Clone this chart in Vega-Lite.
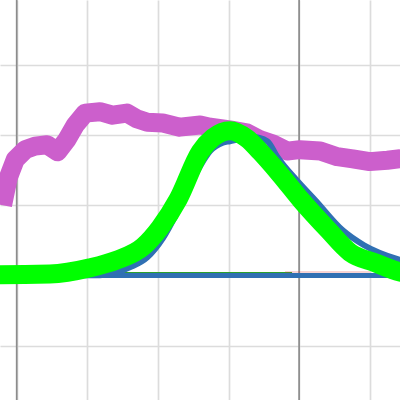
{
  "$schema": "https://vega.github.io/schema/vega-lite/v6.json",
  "width": 400,
  "height": 400,
  "autosize": "none",
  "padding": 0,
  "background": "white",
  "config": {
    "view": {"stroke": null},
    "axis": {"grid": true, "gridColor": "#dcdcdc", "gridWidth": 1.7, "labels": false, "ticks": false, "domain": false, "title": null}
  },
  "encoding": {
    "x": {"field": "x", "type": "quantitative", "scale": {"domain": [-0.2365, 5.429], "nice": false, "zero": false}, "axis": {"values": [0, 1, 2, 3, 4, 5]}},
    "y": {"field": "y", "type": "quantitative", "scale": {"domain": [-1.771, 3.919], "nice": false, "zero": false}, "axis": {"values": [-1, 0, 1, 2, 3]}}
  },
  "layer": [
    {
      "data": {"values": [{"x": 0}, {"x": 4}]},
      "mark": {"type": "rule", "color": "#8c8c8c", "strokeWidth": 1.7},
      "encoding": {"x": {"field": "x", "type": "quantitative"}, "y": null}
    },
    {
      "data": {"values": [{"x": -0.38, "y": 0.04}, {"x": 3.9, "y": 0.04}]},
      "mark": {"type": "line", "color": "#2ca02c", "strokeWidth": 1.2, "clip": true},
      "encoding": {}
    },
    {
      "data": {"values": [{"x": 3.8, "y": 0.05}, {"x": 5.0, "y": 0.05}]},
      "mark": {"type": "line", "color": "#d62728", "strokeWidth": 1.2, "opacity": 0.4, "clip": true},
      "encoding": {}
    },
    {
      "data": {"values": [
        {"x": -0.2, "y": 1.0}, {"x": -0.12, "y": 1.39}, {"x": -0.02, "y": 1.65},
        {"x": 0.12, "y": 1.79}, {"x": 0.26, "y": 1.84}, {"x": 0.43, "y": 1.86}, {"x": 0.58, "y": 1.76},
        {"x": 0.71, "y": 1.93}, {"x": 0.83, "y": 2.14}, {"x": 0.97, "y": 2.31}, {"x": 1.18, "y": 2.33},
        {"x": 1.36, "y": 2.28}, {"x": 1.56, "y": 2.31}, {"x": 1.70, "y": 2.23}, {"x": 1.85, "y": 2.18},
        {"x": 2.07, "y": 2.17}, {"x": 2.31, "y": 2.11}, {"x": 2.60, "y": 2.14}, {"x": 2.74, "y": 2.11},
        {"x": 3.02, "y": 2.07}, {"x": 3.26, "y": 2.03}, {"x": 3.45, "y": 1.93}, {"x": 3.63, "y": 1.87},
        {"x": 3.83, "y": 1.77}, {"x": 4.01, "y": 1.79}, {"x": 4.30, "y": 1.77}, {"x": 4.54, "y": 1.69},
        {"x": 4.76, "y": 1.66}, {"x": 5.00, "y": 1.62}, {"x": 5.25, "y": 1.64}, {"x": 5.43, "y": 1.66},
        {"x": 5.57, "y": 1.68}
      ]},
      "mark": {"type": "line", "color": "#cc5fcc", "strokeWidth": 19, "strokeJoin": "round", "clip": true},
      "encoding": {}
    },
    {
      "data": {"values": [{"x": -0.38, "y": 0}, {"x": 5.57, "y": 0}]},
      "mark": {"type": "line", "color": "#3070b3", "strokeWidth": 5, "clip": true},
      "encoding": {}
    },
    {
      "data": {"values": [
        {"x": -0.38, "y": 0}, {"x": 1.18, "y": 0.003}, {"x": 1.39, "y": 0.036}, {"x": 1.61, "y": 0.12},
        {"x": 1.85, "y": 0.26}, {"x": 2.07, "y": 0.53}, {"x": 2.31, "y": 0.97}, {"x": 2.60, "y": 1.56},
        {"x": 2.74, "y": 1.77}, {"x": 2.92, "y": 1.89}, {"x": 3.02, "y": 1.91}, {"x": 3.16, "y": 1.94},
        {"x": 3.35, "y": 1.97}, {"x": 3.55, "y": 1.91}, {"x": 3.69, "y": 1.69}, {"x": 3.98, "y": 1.34},
        {"x": 4.23, "y": 1.07}, {"x": 4.61, "y": 0.65}, {"x": 4.92, "y": 0.43}, {"x": 5.43, "y": 0.22},
        {"x": 5.57, "y": 0.18}
      ]},
      "mark": {"type": "line", "color": "#3070b3", "strokeWidth": 6, "interpolate": "monotone", "clip": true},
      "encoding": {}
    },
    {
      "data": {"values": [
        {"x": -0.38, "y": 0.01}, {"x": -0.24, "y": 0.01}, {"x": 0.47, "y": 0.02}, {"x": 1.04, "y": 0.11},
        {"x": 1.42, "y": 0.22}, {"x": 1.79, "y": 0.41}, {"x": 2.03, "y": 0.68}, {"x": 2.29, "y": 1.09},
        {"x": 2.60, "y": 1.76}, {"x": 2.78, "y": 1.96}, {"x": 3.02, "y": 2.06},
        {"x": 3.26, "y": 1.95}, {"x": 3.45, "y": 1.76}, {"x": 3.73, "y": 1.44},
        {"x": 4.03, "y": 1.07}, {"x": 4.41, "y": 0.65}, {"x": 4.72, "y": 0.33}, {"x": 5.08, "y": 0.18},
        {"x": 5.43, "y": 0.05}, {"x": 5.57, "y": 0.02}
      ]},
      "mark": {"type": "line", "color": "#00ff00", "strokeWidth": 19, "interpolate": "monotone", "clip": true},
      "encoding": {}
    }
  ]
}
